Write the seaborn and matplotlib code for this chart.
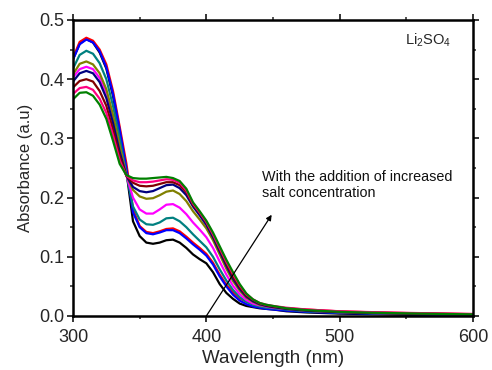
import numpy as np
import pandas as pd
import matplotlib
matplotlib.use("Agg")
import matplotlib.pyplot as plt
from matplotlib.ticker import MultipleLocator, FormatStrFormatter
import seaborn as sns

# Wavelength grid (nm)
wavelength = [300, 305, 310, 315, 320, 325, 330, 335, 340, 345, 350, 355, 360,
              365, 370, 375, 380, 385, 390, 395, 400, 405, 410, 415, 420, 425,
              430, 435, 440, 445, 450, 460, 475, 500, 525, 550, 575, 600]

# Absorbance spectra, one per salt concentration step
abs_black = [0.434, 0.460, 0.468, 0.462, 0.445, 0.418, 0.372, 0.310, 0.245, 0.160,
             0.135, 0.124, 0.122, 0.124, 0.128, 0.129, 0.124, 0.115, 0.104, 0.096,
             0.089, 0.074, 0.054, 0.039, 0.029, 0.021, 0.017, 0.015, 0.013, 0.012,
             0.011, 0.008, 0.006, 0.004, 0.003, 0.002, 0.0015, 0.001]
abs_red = [0.436, 0.463, 0.470, 0.465, 0.450, 0.425, 0.380, 0.320, 0.258, 0.180,
           0.152, 0.142, 0.140, 0.143, 0.147, 0.148, 0.143, 0.134, 0.124, 0.115,
           0.105, 0.090, 0.070, 0.053, 0.040, 0.030, 0.024, 0.020, 0.018, 0.016,
           0.015, 0.013, 0.011, 0.0078, 0.0062, 0.005, 0.004, 0.0032]
abs_blue = [0.433, 0.459, 0.467, 0.462, 0.447, 0.420, 0.375, 0.315, 0.250, 0.175,
            0.150, 0.140, 0.138, 0.141, 0.145, 0.145, 0.140, 0.131, 0.121, 0.112,
            0.102, 0.087, 0.067, 0.050, 0.036, 0.026, 0.020, 0.016, 0.014, 0.012,
            0.011, 0.009, 0.007, 0.005, 0.004, 0.003, 0.0025, 0.002]
abs_teal = [0.418, 0.441, 0.448, 0.443, 0.427, 0.400, 0.355, 0.300, 0.240, 0.185,
            0.163, 0.155, 0.154, 0.158, 0.165, 0.166, 0.160, 0.150, 0.138, 0.127,
            0.116, 0.100, 0.079, 0.060, 0.044, 0.032, 0.024, 0.019, 0.016, 0.014,
            0.013, 0.011, 0.008, 0.006, 0.0045, 0.0035, 0.003, 0.0025]
abs_magenta = [0.403, 0.417, 0.421, 0.417, 0.402, 0.376, 0.334, 0.284, 0.238, 0.200,
               0.180, 0.173, 0.173, 0.180, 0.188, 0.189, 0.183, 0.172, 0.158, 0.146,
               0.133, 0.115, 0.092, 0.070, 0.051, 0.037, 0.027, 0.021, 0.018, 0.016,
               0.014, 0.012, 0.009, 0.0065, 0.005, 0.004, 0.0032, 0.0027]
abs_olive = [0.408, 0.426, 0.430, 0.425, 0.410, 0.383, 0.340, 0.287, 0.238, 0.213,
             0.202, 0.198, 0.199, 0.204, 0.210, 0.212, 0.206, 0.194, 0.177, 0.163,
             0.148, 0.128, 0.104, 0.080, 0.059, 0.043, 0.031, 0.024, 0.019, 0.017,
             0.015, 0.012, 0.009, 0.0065, 0.005, 0.004, 0.0033, 0.0028]
abs_navy = [0.396, 0.410, 0.414, 0.410, 0.395, 0.368, 0.326, 0.277, 0.237, 0.218,
            0.211, 0.209, 0.211, 0.216, 0.221, 0.222, 0.216, 0.204, 0.185, 0.170,
            0.154, 0.133, 0.109, 0.085, 0.063, 0.046, 0.033, 0.025, 0.020, 0.017,
            0.015, 0.012, 0.009, 0.0065, 0.005, 0.004, 0.0033, 0.0028]
abs_maroon = [0.386, 0.397, 0.400, 0.396, 0.380, 0.355, 0.315, 0.270, 0.237, 0.225,
              0.220, 0.219, 0.220, 0.223, 0.226, 0.226, 0.221, 0.209, 0.188, 0.174,
              0.158, 0.137, 0.113, 0.089, 0.067, 0.049, 0.035, 0.027, 0.021, 0.018,
              0.016, 0.013, 0.010, 0.007, 0.0055, 0.0045, 0.0037, 0.003]
abs_pink = [0.375, 0.385, 0.387, 0.382, 0.367, 0.343, 0.305, 0.263, 0.237, 0.229,
            0.226, 0.226, 0.227, 0.229, 0.231, 0.230, 0.225, 0.212, 0.190, 0.175,
            0.159, 0.138, 0.115, 0.092, 0.071, 0.052, 0.037, 0.028, 0.022, 0.019,
            0.017, 0.014, 0.011, 0.008, 0.0065, 0.0053, 0.0043, 0.0035]
abs_green = [0.366, 0.377, 0.378, 0.372, 0.357, 0.333, 0.296, 0.257, 0.238, 0.233,
             0.232, 0.232, 0.233, 0.234, 0.235, 0.233, 0.228, 0.215, 0.192, 0.177,
             0.161, 0.141, 0.118, 0.095, 0.074, 0.054, 0.038, 0.028, 0.022, 0.019,
             0.017, 0.013, 0.010, 0.007, 0.0055, 0.0045, 0.0035, 0.0028]

series = {
    "black": abs_black, "red": abs_red, "blue": abs_blue, "teal": abs_teal,
    "magenta": abs_magenta, "olive": abs_olive, "navy": abs_navy,
    "maroon": abs_maroon, "pink": abs_pink, "green": abs_green,
}
colors = {
    "black": "#000000", "red": "#ff0000", "blue": "#0000ff", "teal": "#008080",
    "magenta": "#ff00ff", "olive": "#808000", "navy": "#000080",
    "maroon": "#800000", "pink": "#ff0080", "green": "#008000",
}

df = pd.concat(
    [pd.DataFrame({"Wavelength": wavelength, "Absorbance": v, "Sample": k})
     for k, v in series.items()],
    ignore_index=True,
)

sns.set_style("ticks")
plt.rcParams["font.family"] = ["Liberation Sans", "DejaVu Sans"]
plt.rcParams["mathtext.default"] = "regular"

fig = plt.figure(figsize=(4.92, 3.70), dpi=100)
ax = fig.add_axes([73 / 492, 1 - 316 / 370, 400 / 492, 296 / 370])

sns.lineplot(data=df, x="Wavelength", y="Absorbance", hue="Sample",
             palette=colors, linewidth=1.6, legend=False, sort=False,
             estimator=None, ax=ax)

ax.set_xlim(300, 600)
ax.set_ylim(0.0, 0.5)
ax.xaxis.set_major_locator(MultipleLocator(100))
ax.xaxis.set_minor_locator(MultipleLocator(50))
ax.yaxis.set_major_locator(MultipleLocator(0.1))
ax.yaxis.set_minor_locator(MultipleLocator(0.05))
ax.yaxis.set_major_formatter(FormatStrFormatter("%.1f"))

for s in ax.spines.values():
    s.set_visible(True)
    s.set_linewidth(1.8)
    s.set_color("black")

ax.tick_params(which="major", direction="out", length=4, width=1.3,
               labelsize=13, top=True, right=True)
ax.tick_params(axis="x", which="major", pad=5)
ax.tick_params(axis="y", which="major", pad=2)
ax.tick_params(which="minor", direction="out", length=2.5, width=1.1,
               top=True, right=True)

ax.set_xlabel("Wavelength (nm)", fontsize=13.5, labelpad=3)
ax.set_ylabel("Absorbance (a.u)", fontsize=12, labelpad=5)

ax.text(549, 0.459, r"Li$_2$SO$_4$", fontsize=10.5, ha="left", va="baseline")

ax.annotate("", xy=(449, 0.171), xytext=(400, 0.0),
            arrowprops=dict(arrowstyle="-|>", color="black", lw=0.9,
                            mutation_scale=8, shrinkA=0, shrinkB=0))
ax.text(442, 0.247, "With the addition of increased\nsalt concentration",
        fontsize=10.4, ha="left", va="top", color="#111111")

fig.savefig("out.png", dpi=100)
